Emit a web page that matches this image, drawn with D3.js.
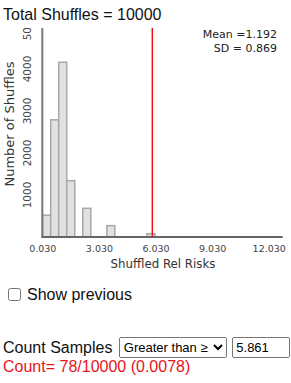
<!DOCTYPE html>
<html lang="en">
<head>
  <meta charset="UTF-8">
  <title>Shuffled Rel Risks</title>
  <script src="https://d3js.org/d3.v7.min.js"></script>
  <style>
    body {
      margin: 0;
      font-family: "Liberation Sans", Arial, sans-serif;
      width: 291px;
      height: 383px;
      position: relative;
      overflow: hidden;
      background: #fff;
    }
    #chart {
      position: absolute;
      left: 0;
      top: 0;
    }
    .axis text {
      font-family: "DejaVu Sans", Verdana, sans-serif;
      font-size: 9.5px;
      fill: #444;
    }
    .bar {
      fill: #e1e1e1;
      stroke: #a8a8a8;
      stroke-width: 1.5px;
    }
    #prev {
      position: absolute;
      left: 6px;
      top: 286px;
      font-size: 16px;
      color: #111;
    }
    #prev input {
      margin: 0 6px 0 2px;
      width: 13px;
      height: 13px;
      vertical-align: -1px;
    }
    #count {
      position: absolute;
      left: 3px;
      top: 337px;
      font-size: 16px;
      color: #111;
      white-space: nowrap;
    }
    #count select {
      font-family: "Liberation Sans", Arial, sans-serif;
      font-size: 13px;
      height: 21px;
      width: 108px;
      margin-left: 2px;
      vertical-align: 1px;
    }
    #count input {
      font-family: "Liberation Sans", Arial, sans-serif;
      font-size: 13px;
      width: 50px;
      height: 15px;
      margin-left: 1px;
      vertical-align: 1px;
    }
    #result {
      position: absolute;
      left: 3px;
      top: 358px;
      font-size: 16px;
      color: #e8141c;
    }
  </style>
</head>
<body>
  <div id="chart"></div>
  <div id="prev"><label><input type="checkbox">Show previous</label></div>
  <div id="count">Count Samples
    <select><option>Greater than ≥</option></select>
    <input type="text" value="5.861">
  </div>
  <div id="result"></div>

  <script>
    // histogram of shuffled relative risks (bins of width 0.425 starting at 0.05)
    const binStart = 0.05;
    const binWidth = 0.425;
    const binCounts = [520, 2790, 4160, 1340, 0, 683, 0, 0, 270, 0, 0, 0, 0, 78];
    const xTicks = [0.03, 3.03, 6.03, 9.03, 12.03];
    const yTicks = [1000, 2000, 3000, 4000, 5000];
    const totalShuffles = 10000;
    const meanVal = 1.192;
    const sdVal = 0.869;
    const cutoff = 5.861;
    const countAbove = 78;

    const width = 291, height = 280;
    const svg = d3.select('#chart').append('svg')
      .attr('width', width)
      .attr('height', height);

    const x = d3.scaleLinear().domain([0.03, 12.77]).range([42.3, 282.7]);
    const y = d3.scaleLinear().domain([0, 5000]).range([237, 27]);

    // title
    svg.append('text')
      .attr('x', 3).attr('y', 20)
      .style('font-size', '16px')
      .style('fill', '#111')
      .text('Total Shuffles = ' + totalShuffles);

    // bars
    const bins = binCounts.map((c, i) => ({ x0: binStart + i * binWidth, x1: binStart + (i + 1) * binWidth, n: c }))
      .filter(d => d.n > 0);
    svg.selectAll('.bar')
      .data(bins)
      .enter()
      .append('rect')
      .attr('class', 'bar')
      .attr('x', d => x(d.x0))
      .attr('width', d => x(d.x1) - x(d.x0))
      .attr('y', d => y(d.n))
      .attr('height', d => y(0) - y(d.n));

    // x axis
    const xAxis = svg.append('g')
      .attr('class', 'axis')
      .attr('transform', 'translate(0,' + y(0) + ')')
      .call(d3.axisBottom(x).tickValues(xTicks).tickSize(0).tickPadding(8).tickFormat(d3.format('.3f')));
    xAxis.select('.domain').remove();
    svg.append('line')
      .attr('x1', x(0.03) - 1).attr('x2', x(12.77))
      .attr('y1', y(0)).attr('y2', y(0))
      .style('stroke', '#666').style('stroke-width', 2);

    // y axis, labels clipped at plot top
    svg.append('clipPath').attr('id', 'yclip')
      .append('rect').attr('x', 0).attr('y', 28).attr('width', 42).attr('height', 220);
    const yAxis = svg.append('g')
      .attr('clip-path', 'url(#yclip)')
      .append('g')
      .attr('class', 'axis')
      .attr('transform', 'translate(' + x(0.03) + ',0)')
      .call(d3.axisLeft(y).tickValues(yTicks).tickSize(0).tickPadding(0).tickFormat(d3.format('d')));
    yAxis.select('.domain').remove();
    yAxis.selectAll('.tick').attr('transform', null);
    yAxis.selectAll('text')
      .attr('transform', d => 'translate(-11,' + y(d) + ') rotate(-90)')
      .attr('x', 0).attr('y', 0).attr('dy', 0)
      .style('font-size', '10.5px')
      .style('text-anchor', 'middle');
    svg.append('line')
      .attr('x1', x(0.03)).attr('x2', x(0.03))
      .attr('y1', 28).attr('y2', y(0))
      .style('stroke', '#777').style('stroke-width', 2);

    // axis titles
    svg.append('text')
      .attr('x', 163).attr('y', 268)
      .attr('text-anchor', 'middle')
      .style('font-family', '"DejaVu Sans", Verdana, sans-serif')
      .style('font-size', '11.8px')
      .style('fill', '#333')
      .text('Shuffled Rel Risks');
    svg.append('text')
      .attr('transform', 'translate(14,124) rotate(-90)')
      .attr('text-anchor', 'middle')
      .style('font-family', '"DejaVu Sans", Verdana, sans-serif')
      .style('font-size', '13px')
      .style('fill', '#333')
      .text('Number of Shuffles');

    // stats
    const stats = svg.append('g')
      .style('font-family', '"DejaVu Sans", Verdana, sans-serif')
      .style('font-size', '11px')
      .style('fill', '#222')
      .attr('text-anchor', 'end');
    stats.append('text').attr('x', 277).attr('y', 38).text('Mean =' + meanVal.toFixed(3));
    stats.append('text').attr('x', 277).attr('y', 52).text('SD = ' + sdVal.toFixed(3));

    // cutoff line
    svg.append('line')
      .attr('x1', x(cutoff)).attr('x2', x(cutoff))
      .attr('y1', 28).attr('y2', y(0))
      .style('stroke', '#e8141c').style('stroke-width', 1.5);

    d3.select('#result').text('Count= ' + countAbove + '/' + totalShuffles + ' (' + (countAbove / totalShuffles) + ')');
  </script>
</body>
</html>
